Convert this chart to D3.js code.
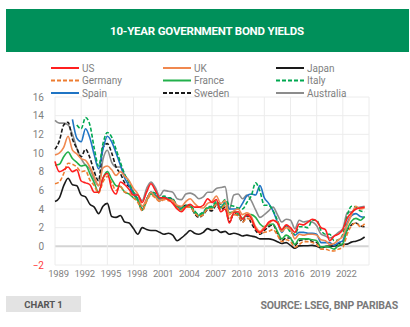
<!DOCTYPE html>
<html><head><meta charset="utf-8">
<script src="https://cdn.jsdelivr.net/npm/d3@7"></script>
<style>
html,body{margin:0;padding:0;background:#fff;}
svg{display:block;}
text{font-family:"Roboto","Liberation Sans",sans-serif;}
</style></head>
<body><svg id="c" width="410" height="327"></svg>
<script>
const startYear = 1989, stepYears = 0.5;
const xTicks = [1989,1992,1995,1998,2001,2004,2007,2010,2013,2016,2019,2022];
const yTicks = [-2,0,2,4,6,8,10,12,14,16];
const seriesNames = ["US","UK","Japan","Germany","France","Italy","Spain","Sweden","Australia"];

const US = [9.1,8.0,8.2,8.5,8.0,8.2,7.0,6.8,6.6,5.8,5.8,7.3,7.8,6.2,5.6,6.9,6.6,6.1,5.5,5.5,4.7,5.8,6.7,6.0,5.2,5.2,5.0,4.6,4.0,3.7,4.2,4.5,4.2,4.2,4.4,5.1,4.7,5.0,3.7,4.0,2.5,3.6,3.7,2.9,3.4,3.0,1.9,1.5,1.9,2.6,2.8,2.5,1.8,2.3,2.0,1.5,2.4,2.3,2.6,2.9,2.7,2.0,1.8,0.6,1.1,1.3,1.8,3.0,3.6,4.0,4.1,4.2];
const UK = [9.8,10.0,10.6,11.8,10.3,9.9,9.4,9.2,8.5,7.5,6.5,8.4,8.6,8.2,7.6,8.0,7.5,7.0,6.2,5.6,4.3,5.0,5.8,5.3,4.9,5.1,5.0,4.9,4.4,4.3,4.8,5.1,4.6,4.2,4.1,4.6,4.8,5.4,4.6,4.9,3.4,3.8,4.0,3.4,3.6,3.2,2.1,1.6,2.1,2.4,2.8,2.6,1.6,2.0,1.8,0.8,1.3,1.2,1.3,1.3,1.2,0.7,0.6,0.2,0.3,0.7,1.1,2.3,3.4,4.3,4.0,4.1];
const Japan = [4.8,5.2,6.5,7.3,6.6,6.5,5.5,5.3,4.5,4.2,3.5,4.3,4.6,3.2,3.1,3.3,2.6,2.5,1.9,1.3,2.0,1.8,1.7,1.7,1.5,1.3,1.4,1.2,0.6,0.9,1.3,1.7,1.4,1.3,1.5,1.9,1.7,1.8,1.5,1.6,1.3,1.4,1.3,1.1,1.2,1.1,1.0,0.8,0.8,0.8,0.7,0.5,0.3,0.4,0.1,-0.2,0.05,0.07,0.07,0.1,0.0,-0.15,-0.05,0.02,0.05,0.05,0.2,0.24,0.45,0.55,0.7,1.0];
const Germany = [6.7,6.9,7.8,8.9,8.8,8.5,8.0,8.1,7.1,6.5,5.7,6.9,7.5,6.8,6.0,6.4,5.8,5.7,5.2,4.7,3.8,4.8,5.5,5.2,4.8,5.0,4.9,4.8,4.1,3.9,4.2,4.2,3.6,3.2,3.4,4.0,4.0,4.5,4.0,4.4,3.0,3.4,3.3,2.6,3.0,2.8,1.9,1.4,1.5,1.6,1.8,1.2,0.5,0.7,0.5,-0.1,0.2,0.5,0.5,0.4,0.2,-0.3,-0.3,-0.45,-0.5,-0.3,-0.1,1.3,2.2,2.5,2.1,2.4];
const France = [8.7,8.8,9.6,10.1,9.4,9.0,8.6,8.7,7.8,6.8,5.8,7.3,8.0,7.2,6.5,6.4,5.8,5.6,5.2,4.9,3.9,4.9,5.6,5.4,4.9,5.2,5.0,4.9,4.1,3.9,4.3,4.3,3.6,3.3,3.5,4.1,4.1,4.6,4.1,4.6,3.6,3.7,3.5,3.0,3.4,3.4,3.1,2.4,2.1,2.3,2.4,1.6,0.8,1.2,0.9,0.2,0.8,0.8,0.8,0.7,0.6,-0.1,0.0,-0.1,-0.3,0.1,0.3,1.8,2.7,3.0,2.8,3.2];
const Italy = [null,null,null,null,null,13.0,12.6,13.8,13.0,10.5,8.6,11.0,12.2,11.7,10.4,9.0,7.7,6.8,5.8,5.0,4.0,5.0,5.8,5.7,5.2,5.4,5.2,5.1,4.3,4.1,4.4,4.4,3.8,3.4,3.7,4.2,4.3,4.8,4.5,5.0,4.4,4.3,4.1,4.0,4.7,5.4,6.8,5.9,4.4,4.4,3.8,2.8,1.7,2.1,1.5,1.3,2.1,2.1,2.0,2.8,2.8,1.7,1.3,1.3,0.6,0.7,1.3,3.3,4.3,4.2,3.8,3.7];
const Spain = [null,null,null,null,13.6,11.6,11.2,12.6,11.6,9.8,8.3,10.4,11.8,11.2,10.0,8.7,7.3,6.5,5.6,5.1,4.0,5.0,5.8,5.5,5.1,5.3,5.1,5.0,4.2,4.0,4.3,4.3,3.6,3.3,3.6,4.1,4.1,4.6,4.2,4.7,4.0,4.0,4.0,4.6,5.4,5.6,5.5,6.5,5.2,4.6,3.8,2.6,1.5,2.2,1.7,1.2,1.5,1.5,1.4,1.4,1.3,0.4,0.4,0.4,0.1,0.4,0.6,2.5,3.3,3.5,3.2,3.1];
const Sweden = [10.4,11.3,13.0,13.3,11.5,10.5,9.6,10.4,9.5,8.0,7.0,10.6,11.0,10.0,8.5,7.8,6.8,6.4,5.6,5.0,3.9,5.0,5.8,5.3,4.9,5.2,5.2,5.0,4.4,4.2,4.4,4.3,3.5,3.1,3.4,3.9,3.8,4.4,3.9,4.2,2.6,3.5,3.3,2.6,3.3,2.5,1.7,1.3,1.7,2.1,2.3,1.4,0.6,0.9,0.9,0.1,0.6,0.7,0.8,0.5,0.4,-0.1,0.0,-0.05,0.1,0.3,0.5,1.7,2.3,2.5,2.2,2.1];
const Australia = [13.5,13.2,13.2,13.0,12.0,10.5,9.4,8.7,8.3,7.2,6.5,9.3,10.3,9.0,8.5,8.5,7.6,7.0,5.8,5.5,4.9,6.2,6.9,6.3,5.4,6.0,5.9,5.8,5.1,5.0,5.6,5.7,5.5,5.1,5.3,5.8,5.8,6.2,6.3,6.4,4.0,5.5,5.6,5.1,5.5,4.9,3.9,3.1,3.4,3.8,4.2,3.4,2.6,2.9,2.8,1.9,2.8,2.6,2.7,2.6,2.2,1.3,1.1,0.9,1.1,1.5,1.9,3.6,3.7,4.0,4.2,4.3];

const seriesValues = [US,UK,Japan,Germany,France,Italy,Spain,Sweden,Australia];
const colors = ["#ff1f1f","#f0884f","#1a1a1a","#ed7d31","#22b04b","#00a850","#1f74c4","#1a1a1a","#8c8c8c"];
const dashed = [false,false,false,true,false,true,false,true,false];

const svg = d3.select("#c");

// banner
svg.append("rect").attr("x",6).attr("y",9).attr("width",403).attr("height",43).attr("fill","#00905a");
svg.append("text").attr("x",207).attr("y",35).attr("text-anchor","middle")
  .attr("fill","#fff").attr("font-weight","bold").attr("font-size",11.5).attr("letter-spacing",-0.2)
  .text("10-YEAR GOVERNMENT BOND YIELDS");

const x = d3.scaleLinear().domain([1989,2025]).range([55,369]);
const y = d3.scaleLinear().domain([-2,16]).range([265,97]);

const g = svg.append("g");
g.selectAll(".hg").data(yTicks).join("line")
  .attr("x1",x(1989)).attr("x2",x(2025)).attr("y1",d=>y(d)).attr("y2",d=>y(d))
  .attr("stroke",d=>d===0?"#d4d4d4":"#ececec").attr("stroke-width",d=>d===0?2:1);
g.selectAll(".vg").data(xTicks.concat([2025])).join("line")
  .attr("x1",d=>x(d)).attr("x2",d=>x(d)).attr("y1",y(16)).attr("y2",y(-2))
  .attr("stroke","#ececec").attr("stroke-width",1);

const yAxis = d3.axisLeft(y).tickValues(yTicks).tickSize(0).tickPadding(0).tickFormat(d3.format("d"));
const ya = svg.append("g").attr("transform","translate(44,0)").call(yAxis);
ya.select(".domain").remove();
ya.selectAll("text").attr("font-size",10).attr("fill",d=>d<0?"#ff3b3b":"#7f7f7f")
  .style("font-family",'"Roboto",sans-serif');

const xAxis = d3.axisBottom(x).tickValues(xTicks).tickSize(0).tickPadding(0).tickFormat(d3.format("d"));
const xa = svg.append("g").attr("transform","translate(3,270)").call(xAxis);
xa.select(".domain").remove();
xa.selectAll("text").attr("font-size",9.5).attr("letter-spacing",-0.2).attr("fill","#7f7f7f")
  .style("font-family",'"Roboto",sans-serif');

const line = d3.line().defined(d=>d.v!==null).x(d=>x(d.t)).y(d=>y(d.v)).curve(d3.curveMonotoneX);
const order = [8,2,7,6,5,4,3,1,0];
order.forEach(i=>{
  const data = seriesValues[i].map((v,k)=>({t:startYear+k*stepYears,v:v}));
  svg.append("path").datum(data).attr("d",line).attr("fill","none")
    .attr("stroke",colors[i]).attr("stroke-width",1.6)
    .attr("stroke-dasharray",dashed[i]?"4,2":null).attr("stroke-linejoin","round");
});

const colX = [51,163,276], rowY = [68,80.5,93];
seriesNames.forEach((n,i)=>{
  const cx = colX[i%3], cy = rowY[Math.floor(i/3)];
  svg.append("line").attr("x1",cx).attr("x2",cx+28).attr("y1",cy).attr("y2",cy)
    .attr("stroke",colors[i]).attr("stroke-width",2).attr("stroke-dasharray",dashed[i]?"4,2":null);
  svg.append("text").attr("x",cx+31).attr("y",cy+3.5).attr("font-size",10).attr("fill","#7f7f7f").text(n);
});

svg.append("rect").attr("x",6).attr("y",296).attr("width",75).attr("height",16).attr("fill","#e3e3e3");
svg.append("text").attr("x",43.5).attr("y",307.5).attr("text-anchor","middle").attr("font-size",9.5)
  .attr("font-weight","bold").attr("fill","#555").text("CHART 1");
svg.append("text").attr("x",398).attr("y",308.5).attr("text-anchor","end").attr("font-size",10.5)
  .attr("font-weight","bold").attr("letter-spacing",-0.2).attr("fill","#7a7a7a").text("SOURCE: LSEG, BNP PARIBAS");
</script></body></html>
